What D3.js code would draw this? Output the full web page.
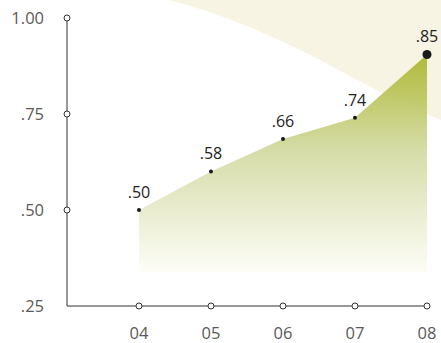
<!DOCTYPE html>
<html>
<head>
<meta charset="utf-8">
<script src="https://cdn.jsdelivr.net/npm/d3@7"></script>
<style>
  body { margin: 0; background: #fff; }
  svg { display: block; }
  text { font-family: "Open Sans", "Noto Sans", sans-serif; }
</style>
</head>
<body>
<svg id="chart" width="441" height="343"></svg>
<script>
// Chart data.
const years = ["04", "05", "06", "07", "08"];
const values = [0.50, 0.60, 0.685, 0.74, 0.905];   // plotted heights
const valueLabels = [".50", ".58", ".66", ".74", ".85"];
const yTicks = [0.25, 0.50, 0.75, 1.00];
const yTickLabels = [".25", ".50", ".75", "1.00"];
const areaFloor = 0.338;

const svg = d3.select("#chart");

// Scales.
let x = d3.scalePoint()
    .domain(["", ...years])
    .range([67, 427]);

let y = d3.scaleLinear()
    .domain([0.25, 1])
    .range([306, 18]);

// Gradient for the area.
let defs = svg.append("defs");
let grad = defs.append("linearGradient")
    .attr("id", "areaGrad")
    .attr("gradientUnits", "userSpaceOnUse")
    .attr("x1", 0).attr("x2", 0)
    .attr("y1", y(d3.max(values))).attr("y2", y(areaFloor));
grad.append("stop").attr("offset", "0%").attr("stop-color", "#a8b426");
grad.append("stop").attr("offset", "45%").attr("stop-color", "#d2d9a0");
grad.append("stop").attr("offset", "100%").attr("stop-color", "#fdfdf6");

let pts = years.map((yr, i) => ({ yr: yr, v: values[i], label: valueLabels[i] }));

// Decorative beige swoosh in the top-right corner.
let swoosh = d3.line().curve(d3.curveBasis);
let swooshPts = [[160, -2], [215, 12], [300, 48], [370, 88], [445, 122]];
svg.append("path")
    .attr("d", swoosh(swooshPts) + "L445,-2Z")
    .attr("fill", "#f8f4e4");

// Area under the line, slightly see-through so the swoosh shows.
let area = d3.area()
    .x(d => x(d.yr))
    .y0(y(areaFloor))
    .y1(d => y(d.v));

svg.append("path")
    .datum(pts)
    .attr("d", area)
    .attr("fill", "url(#areaGrad)")
    .attr("fill-opacity", 0.9);

// Axes.
let axisColour = "#333";

svg.append("line")
    .attr("x1", x("")).attr("x2", x("")).attr("y1", y(1)).attr("y2", y(0.25))
    .attr("stroke", axisColour).attr("stroke-width", 1);

svg.append("line")
    .attr("x1", x("")).attr("x2", x(years[years.length - 1]))
    .attr("y1", y(0.25)).attr("y2", y(0.25))
    .attr("stroke", axisColour).attr("stroke-width", 1);

// Y tick circles and labels.
svg.selectAll(".ytick")
    .data(yTicks.filter(t => t > 0.25))
    .enter()
    .append("circle")
    .attr("cx", x(""))
    .attr("cy", d => y(d))
    .attr("r", 3)
    .attr("fill", "#fff")
    .attr("stroke", axisColour);

svg.selectAll(".ylab")
    .data(yTicks)
    .enter()
    .append("text")
    .attr("x", 44)
    .attr("y", d => y(d))
    .attr("dy", "0.36em")
    .attr("text-anchor", "end")
    .attr("font-size", "16.5px")
    .attr("fill", "#5a5a5a")
    .text((d, i) => yTickLabels[i]);

// X tick circles and labels.
svg.selectAll(".xtick")
    .data(years)
    .enter()
    .append("circle")
    .attr("cx", d => x(d))
    .attr("cy", y(0.25))
    .attr("r", 3)
    .attr("fill", "#fff")
    .attr("stroke", axisColour);

svg.selectAll(".xlab")
    .data(years)
    .enter()
    .append("text")
    .attr("x", d => x(d))
    .attr("y", 333)
    .attr("dy", "0.36em")
    .attr("text-anchor", "middle")
    .attr("font-size", "16.5px")
    .attr("fill", "#5a5a5a")
    .text(d => d);

// Data points and value labels.
svg.selectAll(".dot")
    .data(pts)
    .enter()
    .append("circle")
    .attr("cx", d => x(d.yr))
    .attr("cy", d => y(d.v))
    .attr("r", (d, i) => i === pts.length - 1 ? 4.5 : 2)
    .attr("fill", "#1a1a1a");

svg.selectAll(".vlab")
    .data(pts)
    .enter()
    .append("text")
    .attr("x", d => x(d.yr))
    .attr("y", d => y(d.v) - 18)
    .attr("dy", "0.36em")
    .attr("text-anchor", "middle")
    .attr("font-size", "16px")
    .attr("fill", "#222")
    .text(d => d.label);
</script>
</body>
</html>
